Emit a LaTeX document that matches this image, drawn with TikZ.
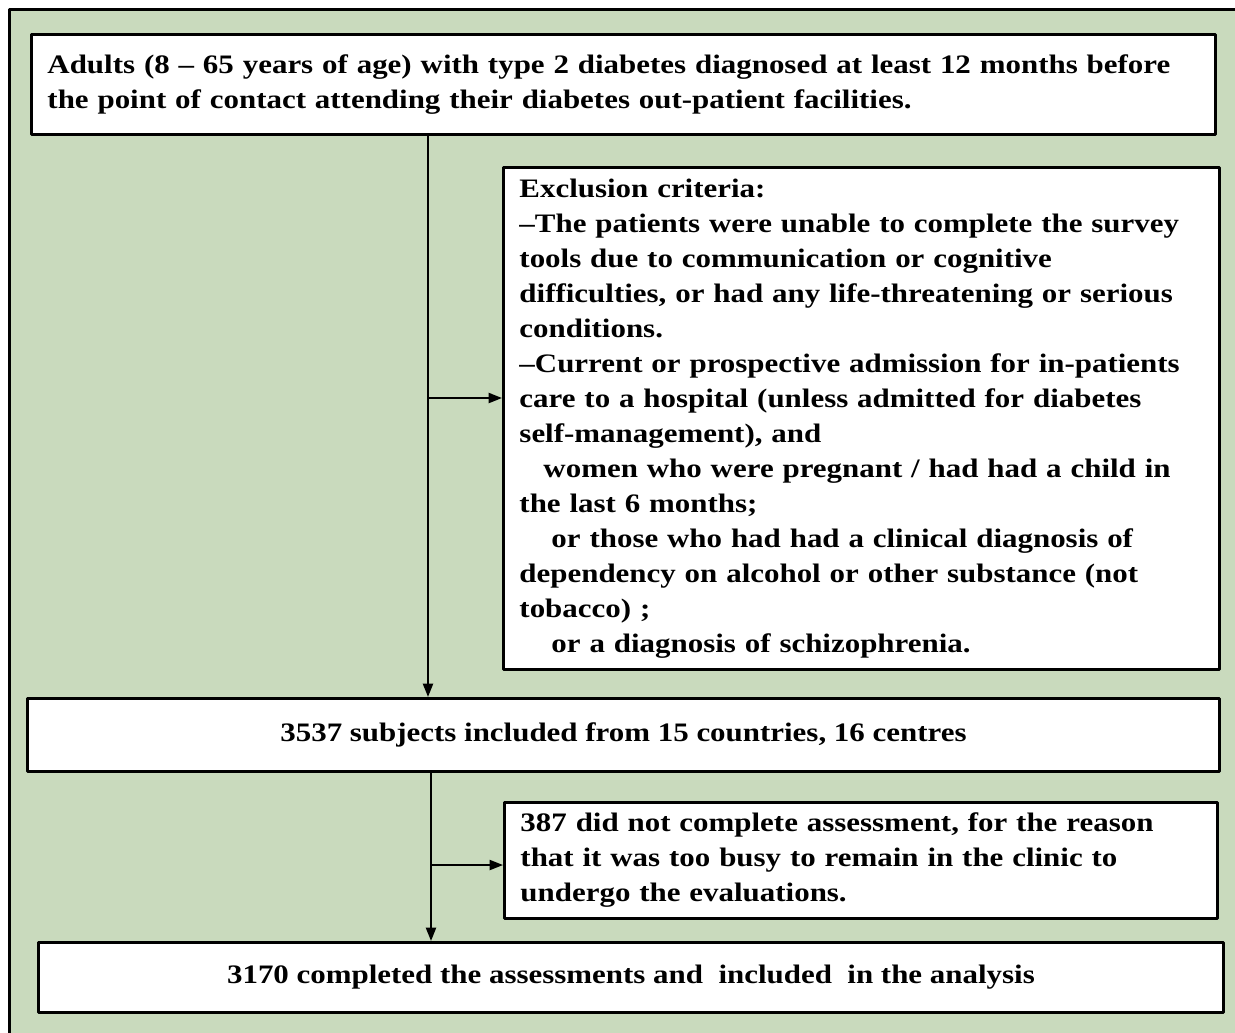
\documentclass[tikz,border=0pt]{standalone}
\usepackage{fontspec}
\setmainfont[FakeStretch=1.16]{Liberation Serif}
\usetikzlibrary{arrows.meta}
\definecolor{nenxanh}{RGB}{201,218,189}
\begin{document}
\begin{tikzpicture}[x=0.75pt,y=-0.75pt,line join=round,
	hop/.style={draw,line width=2.2pt,fill=white,anchor=north west,inner xsep=12pt,inner ysep=0pt,
		font=\bfseries\fontsize{20}{26.25}\selectfont},
	hoptrai/.style={hop,align=left},
	mui/.style={-{Triangle[length=10pt,width=7.5pt]},line width=1.5pt}]
	%==Khung nen
	\useasboundingbox (0,0) rectangle (1235,1032);
	\fill[nenxanh] (9,9) rectangle (1240,1040);
	\draw[line width=2.25pt] (9,1040)--(9,9)--(1240,9);
	%==Cac hop
	\node[hoptrai,minimum width=888pt,minimum height=75pt,text width=864pt] (dau) at (30,33)
	{Adults (8 -- 65 years of age) with type 2 diabetes diagnosed at least 12 months before\\
	the point of contact attending their diabetes out-patient facilities.};
	\node[hoptrai,minimum width=537pt,minimum height=376.5pt,text width=513pt] (loai) at (502,166)
	{Exclusion criteria:\\
	--The patients were unable to complete the survey\\
	tools due to communication or cognitive\\
	difficulties, or had any life-threatening or serious\\
	conditions.\\
	--Current or prospective admission for in-patients\\
	care to a hospital (unless admitted for diabetes\\
	self-management), and\\
	\hspace*{18pt}women who were pregnant / had had a child in\\
	the last 6 months;\\
	\hspace*{24pt}or those who had had a clinical diagnosis of\\
	dependency on alcohol or other substance (not\\
	tobacco) ;\\
	\hspace*{24pt}or a diagnosis of schizophrenia.};
	\node[hop,minimum width=894pt,minimum height=54.75pt] (chon) at (26,697)
	{3537 subjects included from 15 countries, 16 centres};
	\node[hoptrai,minimum width=534.75pt,minimum height=87pt,text width=510.75pt] (bo) at (503,801)
	{387 did not complete assessment, for the reason\\
	that it was too busy to remain in the clinic to\\
	undergo the evaluations.};
	\node[hop,minimum width=888.75pt,minimum height=52.5pt] (cuoi) at (37,941)
	{3170 completed the assessments and\ \ included\ \ in the analysis};
	%==Mui ten
	\coordinate (r1) at (428,398);
	\coordinate (r2) at (431,865);
	\draw[mui] (dau.south -| r1)--(chon.north -| r1);
	\draw[mui] (r1)--(loai.west |- r1);
	\draw[mui] (chon.south -| r2)--(cuoi.north -| r2);
	\draw[mui] (r2)--(bo.west |- r2);
\end{tikzpicture}
\end{document}
